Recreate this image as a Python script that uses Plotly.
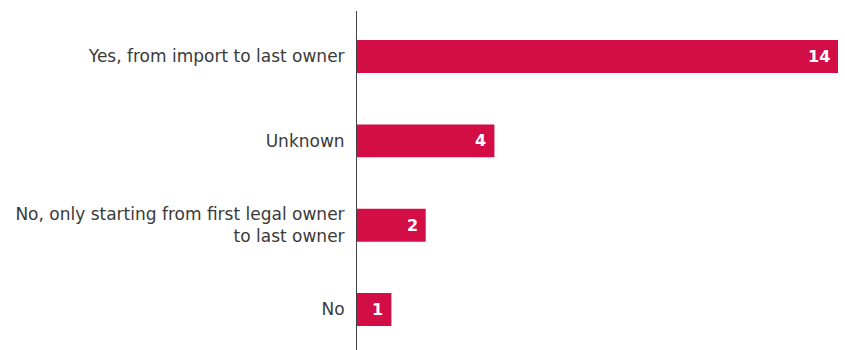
import plotly.graph_objects as go

# Survey answers and counts, listed top to bottom
categories = [
    "Yes, from import to last owner",
    "Unknown",
    "No, only starting from first legal owner<br>to last owner",
    "No",
]
counts = [14, 4, 2, 1]

BAR_COLOR = "#D30D45"
TEXT_COLOR = "#3a3a3a"
FONT = "'DejaVu Sans', sans-serif"

fig = go.Figure(
    go.Bar(
        x=counts,
        y=categories,
        orientation="h",
        marker=dict(color=BAR_COLOR, line=dict(width=0)),
        width=0.39,
        hoverinfo="skip",
    )
)

# value labels sit inside the right end of each bar
for cat, val in zip(categories, counts):
    fig.add_annotation(
        x=val, y=cat, text=f"<b>{val}</b>", showarrow=False,
        xanchor="right", xshift=-6, yanchor="middle",
        font=dict(family=FONT, size=16, color="white"),
    )

fig.update_layout(
    width=845, height=350,
    margin=dict(l=357, r=7, t=11, b=0),
    paper_bgcolor="white", plot_bgcolor="white",
    showlegend=False,
    font=dict(family=FONT, size=17, color=TEXT_COLOR),
    xaxis=dict(range=[0, 14], visible=False, fixedrange=True),
    yaxis=dict(
        categoryorder="array", categoryarray=categories,
        range=[3.48, -0.54],
        showline=True, linecolor="#444444", linewidth=1,
        showgrid=False, zeroline=False,
        ticks="outside", ticklen=8, tickcolor="rgba(0,0,0,0)",
        tickfont=dict(family=FONT, size=17, color=TEXT_COLOR),
        fixedrange=True,
    ),
)

fig.write_html("out.html")
